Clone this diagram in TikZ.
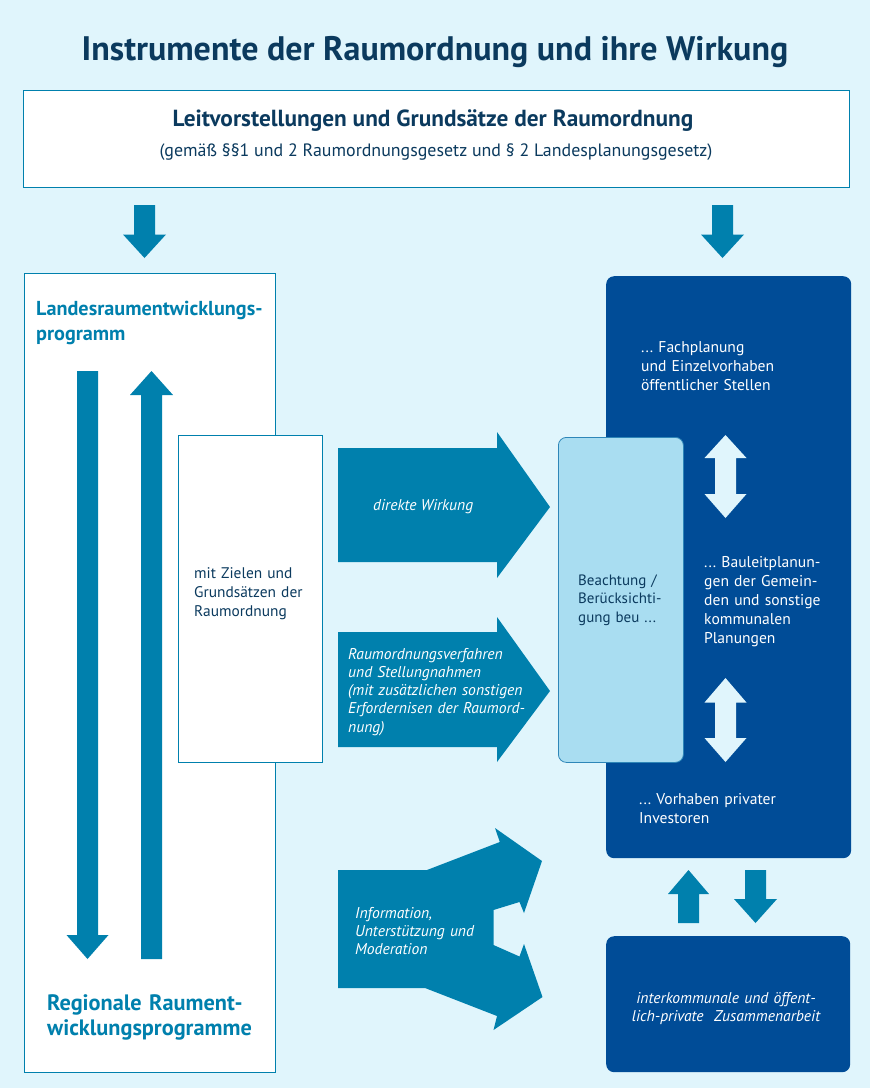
\documentclass[tikz,border=0pt]{standalone}
\usepackage{fontspec}
\setmainfont{PT Sans}
\frenchspacing
\definecolor{bgc}{HTML}{E0F5FC}
\definecolor{teal}{HTML}{0080AD}
\definecolor{navy}{HTML}{0B3A5E}
\definecolor{dblue}{HTML}{004C97}
\definecolor{lbox}{HTML}{A9DDF1}
\definecolor{lborder}{HTML}{2E86B8}
\newcommand{\varr}[7]{\fill[#7] ({#1-#5},#2) -- ({#1+#5},#2) -- ({#1+#5},#3) -- ({#1+#6},#3) -- (#1,#4) -- ({#1-#6},#3) -- ({#1-#5},#3) -- cycle;}
\tikzset{
  wbox/.style={draw=teal, line width=0.8pt, fill=white, anchor=north west, inner sep=0pt},
  dbox/.style={fill=dblue, rounded corners=8pt, anchor=north west, inner sep=0pt},
  txt/.style={anchor=base west, inner sep=0pt, align=left, text width=#1},
  txt/.default=260pt,
  whitetxt/.style={text=white, font=\fontsize{15.6}{19}\selectfont},
  arrtxt/.style={text=white, font=\itshape\fontsize{15.6}{18.3}\selectfont},
  darktxt/.style={text=navy, font=\fontsize{15.4}{19}\selectfont},
}
\begin{document}
\begin{tikzpicture}[x=1pt,y=-1pt]
\fill[bgc] (0,0) rectangle (870,1088);
\useasboundingbox (0,0) rectangle (870,1088);

\node[anchor=base, inner sep=0pt, text=navy, font=\bfseries\fontsize{34}{38}\selectfont] (title) at (435,60) {Instrumente der Raumordnung und ihre Wirkung};

\node[wbox, minimum width=826pt, minimum height=97pt] (top) at (23,90) {};
\node[anchor=base, inner sep=0pt, text=navy, font=\bfseries\fontsize{23.3}{26}\selectfont] (toptitle) at (433,126) {Leitvorstellungen und Grundsätze der Raumordnung};
\node[anchor=base, inner sep=0pt, text=navy, font=\fontsize{17.9}{21}\selectfont] (topsub) at (436,156) {(gemäß §§1 und 2 Raumordnungsgesetz und § 2 Landesplanungsgesetz)};

% top arrows
\varr{144.5}{205}{234.5}{258}{10.5}{21.5}{teal}
\varr{722.5}{205}{234.5}{258}{10.5}{21.5}{teal}

% left box
\node[wbox, minimum width=251pt, minimum height=799pt] (left) at (24,273) {};
\node[txt, text=teal, font=\bfseries\fontsize{20.2}{25}\selectfont] (lep) at (36,315) {Landesraumentwicklungs-\\programm};
\node[txt, text=teal, font=\bfseries\fontsize{22.3}{25}\selectfont] (rep) at (47,1010) {Regionale Raument-\\wicklungsprogramme};
\varr{87.5}{371}{935}{959}{10.5}{21}{teal}
\varr{151.5}{959}{395}{371}{10.5}{21.5}{teal}

% middle box
\node[wbox, minimum width=144pt, minimum height=327pt] (mid) at (178,435) {};
\node[txt, darktxt] (midtxt) at (194,578) {mit Zielen und\\Grundsätzen der\\Raumordnung};

% right dark box
\node[dbox, minimum width=245pt, minimum height=582pt] (right) at (606,276) {};
% light box
\node[fill=lbox, draw=lborder, line width=0.8pt, rounded corners=8pt, anchor=north west, minimum width=125pt, minimum height=325pt, inner sep=0pt] (beach) at (558,437) {};
\node[txt, text=navy, font=\fontsize{15}{18.5}\selectfont] (beachtxt) at (578,585) {Beachtung /\\Berücksichti-\\gung beu ...};

\node[txt, whitetxt] (fach) at (641,352) {... Fachplanung\\und Einzelvorhaben\\öffentlicher Stellen};
\node[txt, whitetxt] (bau) at (704,567) {... Bauleitplanun-\\gen der Gemein-\\den und sonstige\\kommunalen\\Planungen};
\node[txt, whitetxt] (vor) at (639,804) {... Vorhaben privater\\Investoren};

% double arrows
\fill[bgc] (725.5,435) -- (746.5,458) -- (736,458) -- (736,494) -- (746.5,494) -- (725.5,518) -- (704.5,494) -- (715,494) -- (715,458) -- (704.5,458) -- cycle;
\fill[bgc] (725.5,678) -- (746.5,702.5) -- (736,702.5) -- (736,738) -- (746.5,738) -- (725.5,762) -- (704.5,738) -- (715,738) -- (715,702.5) -- (704.5,702.5) -- cycle;

% horizontal arrows
\fill[teal] (338,448) -- (497,448) -- (497,432) -- (550,507) -- (497,578) -- (497,562) -- (338,562) -- cycle;
\node[anchor=base west, inner sep=0pt, arrtxt] (dw) at (373,510) {direkte Wirkung};
\fill[teal] (338,632) -- (497,632) -- (497,617) -- (550,691) -- (497,762) -- (497,747) -- (338,747) -- cycle;
\node[txt, arrtxt] (rov) at (348,659) {Raumordnungsverfahren\\und Stellungnahmen\\(mit zusätzlichen sonstigen\\Erfordernisen der Raumord-\\nung)};

% split arrow
\fill[teal] (338,870) -- (427,870) -- (499.8,842) -- (495,828) -- (542,861) -- (524,913) -- (519.5,902) -- (493.5,910) -- (493.5,945) -- (519.5,956.5) -- (524,944) -- (542.5,997) -- (493.5,1030) -- (497,1016) -- (425,988) -- (338,988) -- cycle;
\node[txt, arrtxt] (info) at (355,918) {Information,\\Unterstützung und\\Moderation};

% bottom arrows
\varr{688.5}{923}{894}{870}{10.5}{20.5}{teal}
\varr{755.5}{870}{899}{923}{10.5}{21.5}{teal}

% bottom box
\node[dbox, minimum width=244pt, minimum height=136pt] (coop) at (606,936) {};
\node[anchor=base, inner sep=0pt, align=center, text width=240pt, arrtxt] (cooptxt) at (726,1003) {interkommunale und öffent-\\lich-private\ \ Zusammenarbeit};
\end{tikzpicture}
\end{document}
